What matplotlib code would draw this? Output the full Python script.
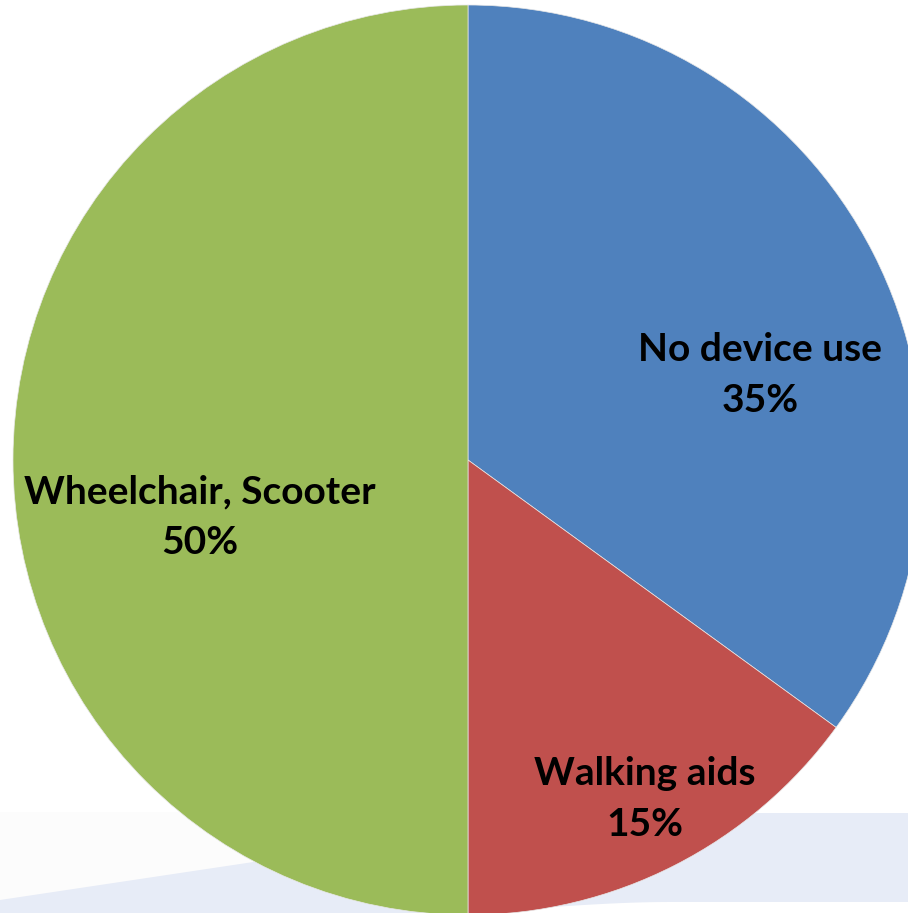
import numpy as np
import matplotlib.pyplot as plt

labels = ['No device use', 'Walking aids', 'Wheelchair, Scooter']
shares = [35, 15, 50]
colors = ['#4F81BD', '#C0504D', '#9BBB59']

W, H = 908, 913
fig = plt.figure(figsize=(W / 100, H / 100), dpi=100)
ax = fig.add_axes([0, 0, 1, 1])

# faint background swoosh at the bottom (pixel rows measured from the top)
xs = np.linspace(0, W, 300)
ax.fill_between(xs, 0, H - 812, where=xs < 420, color='#FCFCFC', zorder=0, lw=0)
t = np.clip((xs - 300) / 300, 0, 1)
top_px = np.where(xs <= 300, 900 - 0.15 * xs, 855 - 42 * (3 * t ** 2 - 2 * t ** 3))
u = np.clip((xs - 420) / 250, 0, 1)
bot_px = 913 - 11 * (3 * u ** 2 - 2 * u ** 3)
ax.fill_between(xs, H - bot_px, H - top_px, color='#E7ECF7', zorder=0, lw=0)

cx, cy, r = 468, H - 460, 455
ax.pie(shares, colors=colors, startangle=90, counterclock=False,
       center=(cx, cy), radius=r, frame=True,
       wedgeprops=dict(linewidth=0.5, edgecolor='#e8e8e8'))
ax.set_xlim(0, W)
ax.set_ylim(0, H)
ax.axis('off')

label_pos = [(760, H - 375), (645, H - 799), (200, H - 517)]
for lab, v, (x, y) in zip(labels, shares, label_pos):
    ax.text(x, y, f'{lab}\n{v}%', ha='center', va='center', fontsize=28,
            fontweight='bold', family='Lato', linespacing=1.55, color='black')

fig.savefig('out.png', dpi=100)
